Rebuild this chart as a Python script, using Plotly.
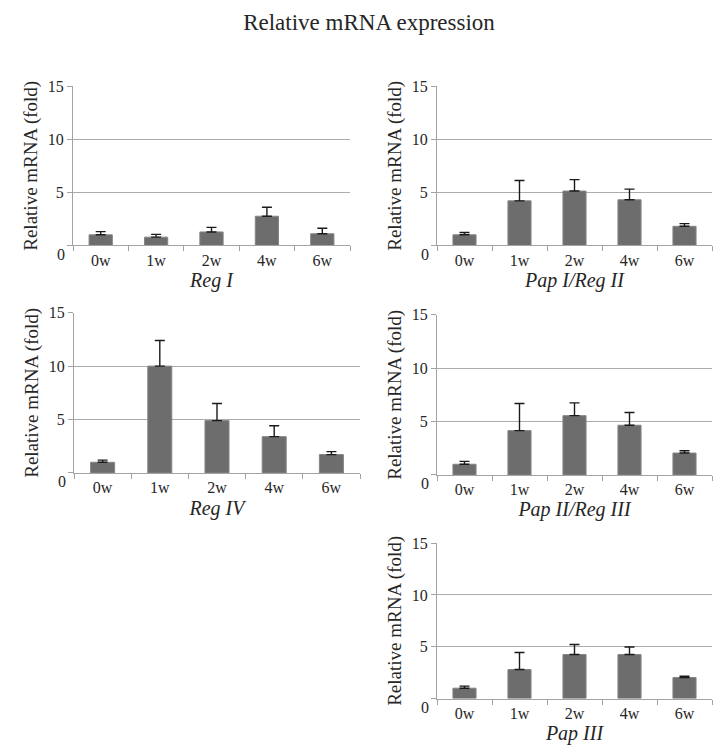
import plotly.graph_objects as go

# ---------------- data ----------------
weeks = ["0w", "1w", "2w", "4w", "6w"]

reg1 = [1.0, 0.78, 1.27, 2.75, 1.1]
reg1_err = [0.3, 0.26, 0.43, 0.85, 0.52]

pap1_reg2 = [1.0, 4.2, 5.12, 4.3, 1.8]
pap1_reg2_err = [0.22, 1.92, 1.08, 1.0, 0.25]

reg4 = [1.0, 10.0, 4.9, 3.4, 1.72]
reg4_err = [0.2, 2.4, 1.6, 1.02, 0.28]

pap2_reg3 = [1.0, 4.15, 5.55, 4.65, 2.05]
pap2_reg3_err = [0.27, 2.53, 1.2, 1.2, 0.22]

pap3 = [1.0, 2.8, 4.25, 4.25, 2.03]
pap3_err = [0.2, 1.65, 0.97, 0.72, 0.12]

gene_names = ["Reg I", "Pap I/Reg II", "Reg IV", "Pap II/Reg III", "Pap III"]
series = [reg1, pap1_reg2, reg4, pap2_reg3, pap3]
errors = [reg1_err, pap1_reg2_err, reg4_err, pap2_reg3_err, pap3_err]

y_ticks = [0, 5, 10, 15]
y_title = "Relative mRNA (fold)"
main_title = "Relative mRNA expression"

# ---------------- layout geometry (pixels) ----------------
W, H = 722, 748
# (left, right, top, bottom, xtitle standoff)
panels = [
    (73, 350, 79, 240, 0),
    (437, 712, 79, 240, 0),
    (74, 360, 308, 470, 5),
    (437, 712, 310, 472, 2),
    (437, 712, 541, 698, 0),
]

FONT = "Liberation Serif"
TXT = "#262626"
GRID = "#ababab"
AXIS = "#a3a3a3"
BAR = "#6d6d6d"

fig = go.Figure()
layout = dict(
    width=W, height=H,
    margin=dict(l=0, r=0, t=0, b=0),
    paper_bgcolor="white", plot_bgcolor="white",
    showlegend=False,
    font=dict(family=FONT, color=TXT, size=16),
    bargap=0.58,
    title=dict(text=main_title, x=369 / W, xanchor="center",
               y=1 - 22 / H, yanchor="middle", yref="container",
               font=dict(family=FONT, size=23, color=TXT)),
)
annotations = []

for i, (name, vals, errs, (l, r, t, b, xts)) in enumerate(
        zip(gene_names, series, errors, panels)):
    k = "" if i == 0 else str(i + 1)
    fig.add_trace(go.Bar(
        x=weeks, y=vals, xaxis="x" + k, yaxis="y" + k,
        marker=dict(color=BAR, line=dict(color="#858585", width=1)),
        error_y=dict(type="data", symmetric=False, array=errs,
                     arrayminus=[0] * len(errs), color="#1a1a1a",
                     thickness=1.4, width=5),
        hoverinfo="x+y",
    ))
    layout["xaxis" + k] = dict(
        domain=[l / W, r / W], anchor="y" + k,
        type="category",
        showline=True, linecolor=AXIS, linewidth=1,
        ticks="outside", tickson="boundaries", ticklen=5, tickcolor=AXIS,
        showgrid=False, zeroline=False,
        tickfont=dict(family=FONT, size=16, color=TXT),
        ticklabelstandoff=0,
        title=dict(text="<i>" + name + "</i>", standoff=xts,
                   font=dict(family=FONT, size=20, color=TXT)),
        fixedrange=True,
    )
    layout["yaxis" + k] = dict(
        domain=[1 - b / H, 1 - t / H], anchor="x" + k,
        range=[0, 15], tickvals=y_ticks,
        ticktext=["" if v == 0 else str(v) for v in y_ticks],
        showline=True, linecolor=AXIS, linewidth=1,
        ticks="outside", ticklen=5, tickcolor=AXIS,
        showgrid=True, gridcolor=GRID, gridwidth=1, zeroline=False,
        tickfont=dict(family=FONT, size=16, color=TXT),
        title=dict(text=y_title, standoff=5,
                   font=dict(family=FONT, size=19, color=TXT)),
        fixedrange=True,
    )
    # Excel-style "0" label sitting slightly below the axis
    annotations.append(dict(
        text=str(y_ticks[0]), xref="x" + k + " domain", yref="y" + k,
        x=0, y=y_ticks[0], xanchor="right", yanchor="middle",
        xshift=-6, yshift=-9, showarrow=False,
        font=dict(family=FONT, size=16, color=TXT),
    ))

layout["annotations"] = annotations
fig.update_layout(**layout)
fig.write_html("out.html",
               config={"displayModeBar": False},
               post_script="document.body.style.margin='0';")
